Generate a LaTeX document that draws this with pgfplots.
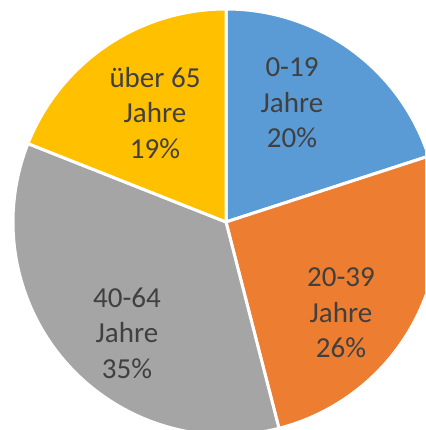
\documentclass[border=0pt]{standalone}
\usepackage{pgfplots}
\pgfplotsset{compat=1.18}
\usepackage{fontspec}
\setmainfont{Carlito}
\definecolor{cA}{HTML}{5B9BD5}
\definecolor{cB}{HTML}{ED7D31}
\definecolor{cC}{HTML}{A5A5A5}
\definecolor{cD}{HTML}{FFC000}
\definecolor{txt}{HTML}{404040}
\begin{document}
\begin{tikzpicture}
% shares in percent, clockwise from 12 o'clock
\def\vA{20}\def\vB{26}\def\vC{35}\def\vD{19}
\pgfmathsetmacro\aA{90}
\pgfmathsetmacro\aB{\aA-3.6*\vA}
\pgfmathsetmacro\aC{\aB-3.6*\vB}
\pgfmathsetmacro\aD{\aC-3.6*\vC}
\pgfmathsetmacro\aE{\aD-3.6*\vD}
\def\R{213}
\begin{axis}[
  scale only axis, width=425pt, height=430pt,
  xmin=-226, xmax=199, ymin=-208, ymax=222,
  hide axis, clip=true,
]
\fill[cA, draw=white, line width=3pt] (axis cs:0,0) -- (axis cs:{\R*cos(\aA)},{\R*sin(\aA)}) arc[start angle=\aA, end angle=\aB, radius=\R pt] -- cycle;
\fill[cB, draw=white, line width=3pt] (axis cs:0,0) -- (axis cs:{\R*cos(\aB)},{\R*sin(\aB)}) arc[start angle=\aB, end angle=\aC, radius=\R pt] -- cycle;
\fill[cC, draw=white, line width=3pt] (axis cs:0,0) -- (axis cs:{\R*cos(\aC)},{\R*sin(\aC)}) arc[start angle=\aC, end angle=\aD, radius=\R pt] -- cycle;
\fill[cD, draw=white, line width=3pt] (axis cs:0,0) -- (axis cs:{\R*cos(\aD)},{\R*sin(\aD)}) arc[start angle=\aD, end angle=\aE, radius=\R pt] -- cycle;
\begin{scope}[every node/.style={text=txt, align=center, font=\fontsize{29}{35.5}\selectfont}]
\node at (axis cs:66,119) {0-19\\Jahre\\20\%};
\node at (axis cs:115,-91) {20-39\\Jahre\\26\%};
\node at (axis cs:-99,-111) {40-64\\Jahre\\35\%};
\node at (axis cs:-71,109) {über 65\\Jahre\\19\%};
\end{scope}
\end{axis}
\pgfresetboundingbox
\path (current axis.south west) rectangle (current axis.north east);
\end{tikzpicture}
\end{document}
